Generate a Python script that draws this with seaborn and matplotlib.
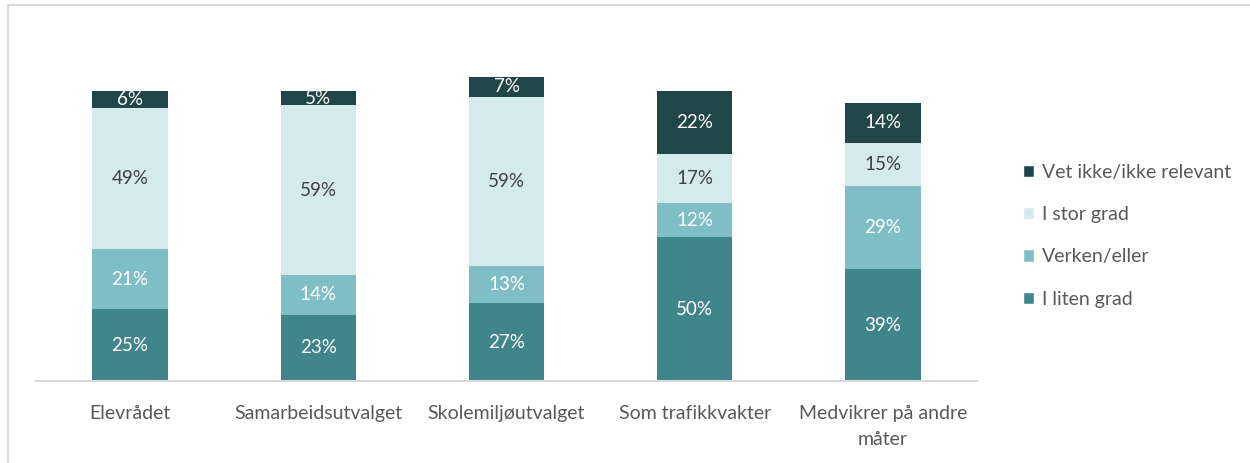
import numpy as np
import pandas as pd
import matplotlib
matplotlib.use("Agg")
import matplotlib.pyplot as plt
from matplotlib.patches import Patch
from matplotlib.lines import Line2D
import seaborn as sns

categories = ["Elevrådet", "Samarbeidsutvalget", "Skolemiljøutvalget",
              "Som trafikkvakter", "Medvikrer på andre\nmåter"]
series = ["I liten grad", "Verken/eller", "I stor grad", "Vet ikke/ikke relevant"]
i_liten_grad = [25, 23, 27, 50, 39]
verken_eller = [21, 14, 13, 12, 29]
i_stor_grad = [49, 59, 59, 17, 15]
vet_ikke = [6, 5, 7, 22, 14]

colors = ["#40858A", "#80BEC5", "#D5EAED", "#21464A"]
label_colors = ["white", "white", "#404040", "white"]

values = [i_liten_grad, verken_eller, i_stor_grad, vet_ikke]


def main():
    sns.set_style("white")
    plt.rcParams["font.family"] = ["Lato", "DejaVu Sans"]

    fig = plt.figure(figsize=(12.5, 4.63), dpi=100)
    ax = fig.add_axes([0.0288, 0.1771, 0.7528, 0.682])

    cum = np.cumsum(np.array(values), axis=0)
    # draw tallest stack first so lower segments sit on top of it
    for k in range(len(series) - 1, -1, -1):
        df = pd.DataFrame({"cat": categories, "val": cum[k]})
        sns.barplot(data=df, x="cat", y="val", color=colors[k], width=0.4,
                    saturation=1, ax=ax, linewidth=0, order=categories)

    for k in range(len(series)):
        for i, cat in enumerate(categories):
            v = values[k][i]
            mid = cum[k][i] - v / 2
            ax.text(i, mid, f"{v}%", ha="center", va="center",
                    fontsize=13.5, color=label_colors[k])

    ax.set_xlim(-0.5, len(categories) - 0.5)
    ax.set_ylim(0, 110)
    ax.set_xlabel("")
    ax.set_ylabel("")
    ax.set_yticks([])
    for s in ["top", "right", "left"]:
        ax.spines[s].set_visible(False)
    ax.spines["bottom"].set_color("#D9D9D9")
    ax.spines["bottom"].set_linewidth(1.5)
    ax.tick_params(axis="x", length=0, labelsize=14, labelcolor="#595959", pad=17)
    for lbl in ax.get_xticklabels():
        lbl.set_linespacing(1.65)

    handles = [Patch(facecolor=colors[k], label=series[k]) for k in range(len(series) - 1, -1, -1)]
    fig.legend(handles=handles, loc="upper left", bbox_to_anchor=(0.804, 0.684),
               frameon=False, fontsize=14, labelcolor="#595959",
               handlelength=0.6, handleheight=0.6, handletextpad=0.4,
               labelspacing=1.3)

    # outer frame (left and top only visible in the crop)
    fig.add_artist(Line2D([0.0064, 0.0064], [0, 0.989], color="#D9D9D9", lw=1.5))
    fig.add_artist(Line2D([0.0064, 1], [0.989, 0.989], color="#D9D9D9", lw=1.5))

    fig.savefig("out.png", dpi=100)
    plt.close(fig)


if __name__ == "__main__":
    main()
